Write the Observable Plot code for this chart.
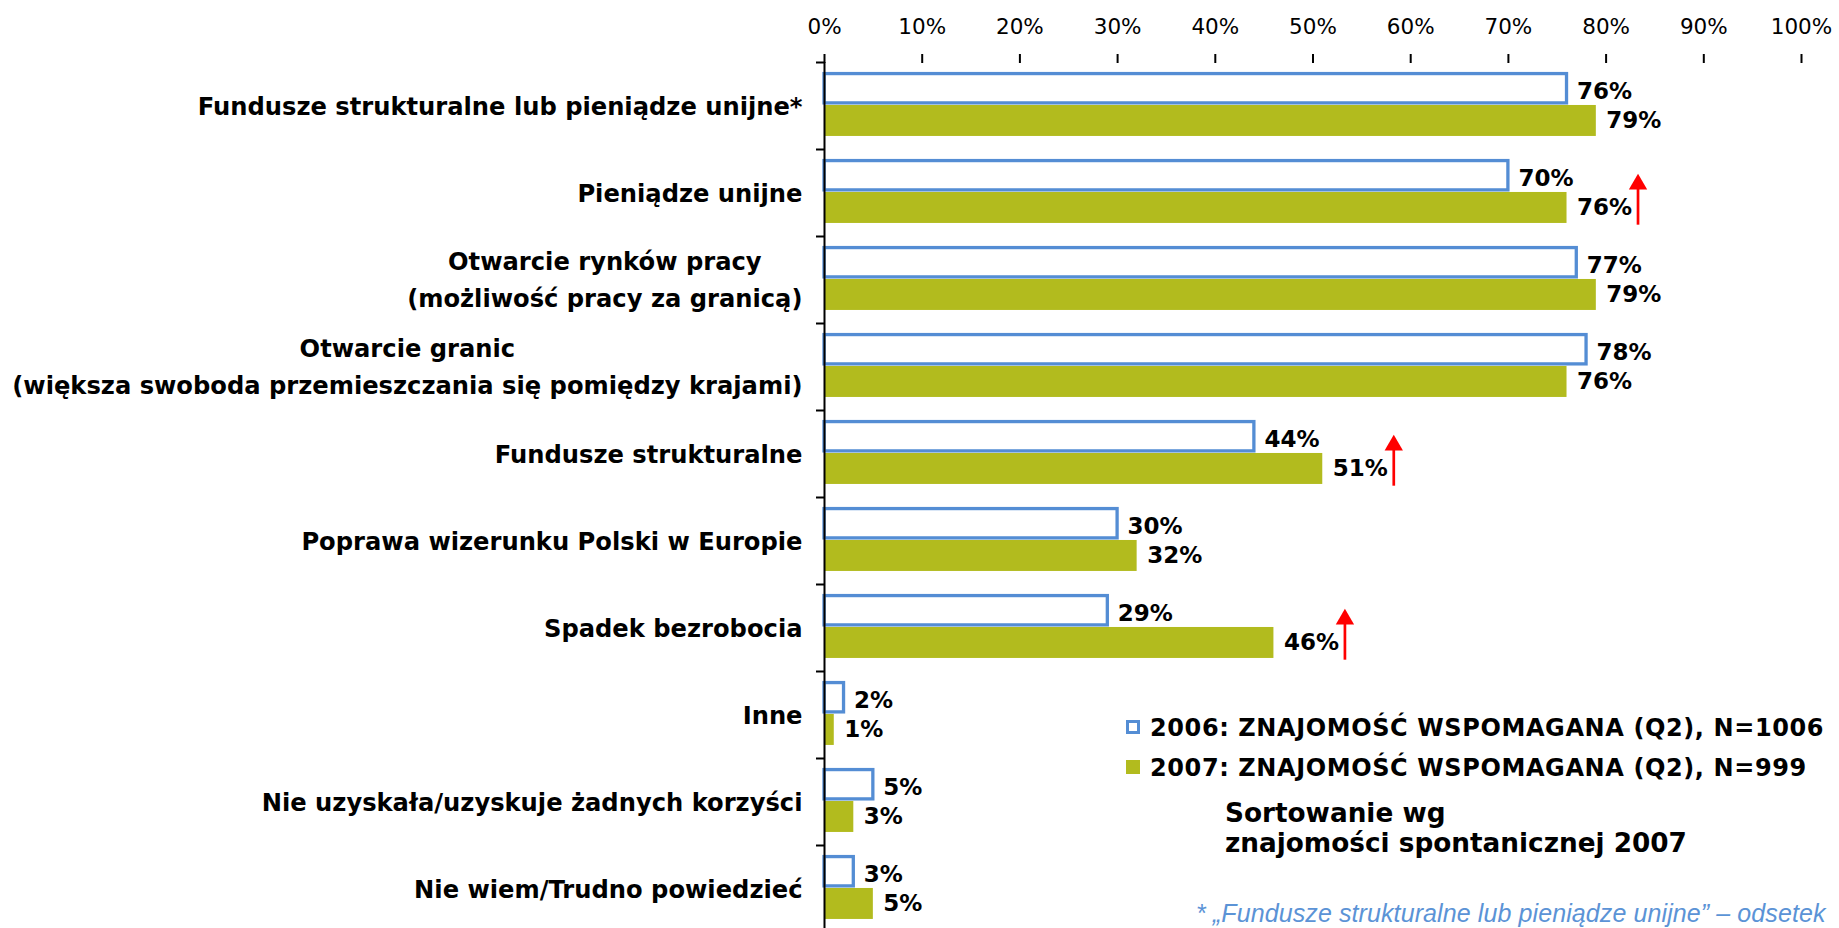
<!DOCTYPE html>
<html><head><meta charset="utf-8">
<script src="https://cdn.jsdelivr.net/npm/d3@7"></script>
<script src="https://cdn.jsdelivr.net/npm/@observablehq/plot@0.6"></script>
<style>
html,body{margin:0;padding:0;background:#fff;overflow:hidden;}
#wrap{position:relative;width:1839px;height:928px;overflow:hidden;background:#fff;}
#wrap svg{position:absolute;left:0;top:0;}
.legend{position:absolute;left:1126px;height:30px;line-height:30px;font:bold 24px "DejaVu Sans",Verdana,sans-serif;color:#000;white-space:nowrap;letter-spacing:0.6px;}
.legend .sw{display:inline-block;width:14px;height:14px;box-sizing:border-box;margin-right:10px;vertical-align:middle;position:relative;top:-2px;}
.note{position:absolute;left:1225px;top:798px;font:bold 26.3px "DejaVu Sans",Verdana,sans-serif;line-height:30px;color:#000;white-space:nowrap;}
.foot{position:absolute;left:1196px;top:899px;height:30px;line-height:30px;font:italic 25px "Liberation Sans",Arial,sans-serif;letter-spacing:0.1px;color:#5B93D6;white-space:nowrap;}
</style></head><body><div id="wrap"></div>
<script>
// ---- data ----
const categories = [
  "Fundusze strukturalne lub pieniądze unijne*",
  "Pieniądze unijne",
  "Otwarcie rynków pracy\n(możliwość pracy za granicą)",
  "Otwarcie granic\n(większa swoboda przemieszczania się pomiędzy krajami)",
  "Fundusze strukturalne",
  "Poprawa wizerunku Polski w Europie",
  "Spadek bezrobocia",
  "Inne",
  "Nie uzyskała/uzyskuje żadnych korzyści",
  "Nie wiem/Trudno powiedzieć"
];
const values2006 = [76, 70, 77, 78, 44, 30, 29, 2, 5, 3];
const values2007 = [79, 76, 79, 76, 51, 32, 46, 1, 3, 5];
const increase2007 = [false, true, false, false, true, false, true, false, false, false];
const xTicks = [0, 10, 20, 30, 40, 50, 60, 70, 80, 90, 100];
const seriesNames = [
  "2006: ZNAJOMOŚĆ WSPOMAGANA (Q2), N=1006",
  "2007: ZNAJOMOŚĆ WSPOMAGANA (Q2), N=999"
];
const sortNote = ["Sortowanie wg", "znajomości spontanicznej 2007"];
const footnote = "* „Fundusze strukturalne lub pieniądze unijne” – odsetek";

const BLUE = "#548DD4";
const GREEN = "#B2BB1E";
const RED = "#FF0000";

const rows = categories.map((c, i) => ({
  category: c, v2006: values2006[i], v2007: values2007[i], up: increase2007[i]
}));

const W = 1839, H = 932, mT = 62, mL = 824, mR = 38, mB = 0;
const step = (H - mT - mB) / categories.length;

const chart = Plot.plot({
  width: W, height: H,
  marginTop: mT, marginLeft: mL, marginRight: mR, marginBottom: mB,
  style: {fontFamily: "'DejaVu Sans', Verdana, sans-serif", color: "#000", background: "#fff", overflow: "visible"},
  x: {domain: [0, 100], axis: null},
  y: {domain: categories, padding: 0, axis: null},
  marks: [
    Plot.barX(rows, {x: "v2006", y: "category", fill: "white", stroke: BLUE, strokeWidth: 3.3,
      insetTop: step * 0.133, insetBottom: step * 0.53}),
    Plot.barX(rows, {x: "v2007", y: "category", fill: GREEN,
      insetTop: step * 0.494, insetBottom: step * 0.15}),
    Plot.text(rows, {x: "v2006", y: "category", text: d => d.v2006 + "%", dx: 10, dy: -step * 0.17,
      textAnchor: "start", fontSize: 23, fontWeight: "bold"}),
    Plot.text(rows, {x: "v2007", y: "category", text: d => d.v2007 + "%", dx: 10, dy: step * 0.165,
      textAnchor: "start", fontSize: 23, fontWeight: "bold"}),
    Plot.tickX(rows.filter(d => d.up), {x: "v2007", y: "category", dx: 71, stroke: RED, strokeWidth: 2.7,
      insetTop: step * 0.44, insetBottom: step * 0.13}),
    Plot.dot(rows.filter(d => d.up), {x: "v2007", y: "category", dx: 71, dy: -step * 0.1,
      symbol: "triangle", r: 6.8, fill: RED, stroke: null}),
    Plot.ruleX([0], {strokeWidth: 2}),
    Plot.axisX({anchor: "top", ticks: xTicks, tickFormat: d => d + "%", tickSize: 9, tickPadding: 19.5,
      strokeWidth: 2, fontSize: 21.5, label: null, line: true}),
    Plot.axisY({ticks: categories, tickSize: 8, tickFormat: () => "", dy: -step / 2, strokeWidth: 2, label: null}),
    Plot.axisY({ticks: categories, tickSize: 0, tickPadding: 22, dy: -3, fontSize: 24.2, fontWeight: "bold",
      lineHeight: 1.5, label: null})
  ]
});

const wrap = document.getElementById("wrap");
wrap.appendChild(chart);

// center the lines of multi-line category labels within their block
chart.querySelectorAll("text").forEach(t => {
  const spans = t.querySelectorAll("tspan");
  if (spans.length > 1) {
    let maxW = 0;
    spans.forEach(s => { maxW = Math.max(maxW, s.getComputedTextLength()); });
    t.setAttribute("text-anchor", "middle");
    spans.forEach(s => s.setAttribute("x", -maxW / 2));
  }
});

// legend
const swStyles = [
  `border:3px solid ${BLUE};background:#fff;`,
  `background:${GREEN};`
];
const legendTops = [714, 754];
seriesNames.forEach((name, i) => {
  const d = document.createElement("div");
  d.className = "legend";
  d.style.top = legendTops[i] + "px";
  d.innerHTML = `<span class="sw" style="${swStyles[i]}"></span>`;
  d.appendChild(document.createTextNode(name));
  wrap.appendChild(d);
});
const n = document.createElement("div");
n.className = "note";
n.innerHTML = sortNote.join("<br>");
wrap.appendChild(n);
const f = document.createElement("div");
f.className = "foot";
f.textContent = footnote;
wrap.appendChild(f);
</script>
</body></html>
